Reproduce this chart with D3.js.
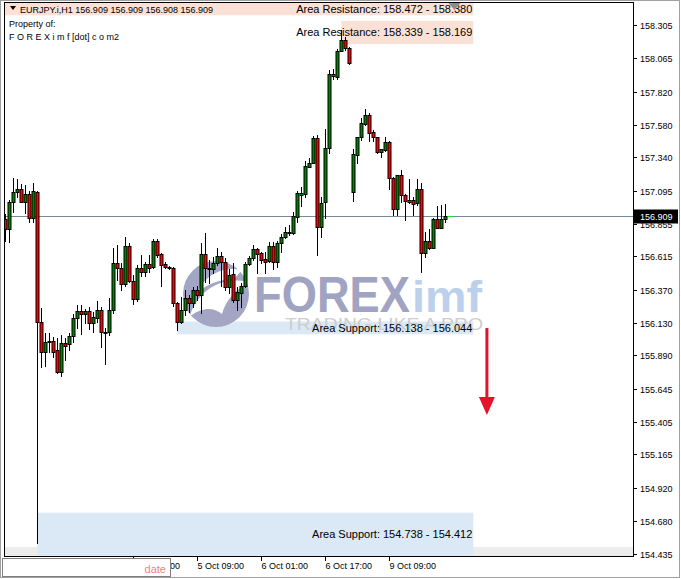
<!DOCTYPE html>
<html><head><meta charset="utf-8">
<script src="https://cdn.jsdelivr.net/npm/d3@7"></script>
<style>html,body{margin:0;padding:0;background:#fff;}svg{display:block;}</style>
</head><body><div id="chart"></div>
<script>
// ---- DATA ----
const opens  = [156.888,156.813,157.011,157.084,157.106,157.011,157.069,156.898,157.087,156.132,155.913,155.986,155.995,155.930,155.765,155.978,155.971,156.029,156.162,156.215,156.191,156.215,156.125,156.166,156.222,156.052,156.059,156.222,156.564,156.528,156.412,156.691,156.435,156.301,156.528,156.503,156.559,156.535,156.727,156.632,156.557,156.535,156.528,156.271,156.137,156.222,156.308,156.276,156.369,156.332,156.632,156.528,156.520,156.564,156.618,156.574,156.390,156.484,156.296,156.345,156.400,156.557,156.601,156.667,156.637,156.593,156.583,156.691,156.571,156.710,156.754,156.784,156.789,156.906,157.064,157.071,157.271,157.300,157.479,156.832,157.015,157.406,157.937,157.930,158.120,158.199,158.138,157.089,157.357,157.487,157.582,157.650,157.523,157.487,157.382,157.394,157.454,157.188,156.960,157.209,157.064,157.015,157.028,157.003,157.106,156.637,156.727,156.676,156.886,156.826,156.886,156.909];
const highs  = [156.923,157.028,157.186,157.181,157.143,157.138,157.092,157.154,157.092,156.235,156.054,156.054,156.022,156.017,156.041,156.017,156.054,156.191,156.259,156.259,156.227,156.246,156.210,156.288,156.246,156.088,156.312,156.674,156.698,156.564,156.759,156.710,156.479,156.552,156.625,156.576,156.625,156.740,156.740,156.642,156.576,156.544,156.535,156.283,156.320,156.369,156.332,156.390,156.395,156.710,156.784,156.588,156.610,156.674,156.649,156.603,156.520,156.564,156.390,156.417,156.576,156.618,156.698,156.676,156.649,156.649,156.722,156.722,156.730,156.779,156.832,156.845,156.942,157.096,157.125,157.315,157.333,157.496,157.503,157.052,157.545,157.979,157.984,158.131,158.272,158.221,158.148,157.399,157.491,157.628,157.692,157.664,157.540,157.491,157.399,157.491,157.458,157.194,157.211,157.247,157.071,157.179,157.052,157.179,157.150,156.796,156.813,156.896,156.984,156.991,156.998,156.909];
const lows   = [156.727,156.722,156.942,157.052,157.011,156.935,156.869,156.864,154.517,155.807,155.812,155.917,155.878,155.758,155.741,155.859,155.930,155.991,156.088,156.044,156.125,156.083,156.063,156.137,155.954,155.825,156.039,156.198,156.441,156.368,156.400,156.430,156.266,156.290,156.471,156.471,156.503,156.528,156.613,156.400,156.528,156.520,156.252,156.076,156.125,156.186,156.210,156.246,156.296,156.198,156.430,156.417,156.493,156.552,156.400,156.369,156.345,156.283,156.222,156.246,156.390,156.552,156.588,156.491,156.564,156.495,156.576,156.520,156.540,156.649,156.747,156.771,156.779,156.869,156.984,157.052,157.267,157.296,156.625,156.759,156.894,157.374,157.911,157.911,158.118,158.126,158.023,157.022,157.300,157.467,157.577,157.462,157.462,157.370,157.344,157.389,157.109,156.918,156.918,157.015,156.881,157.008,156.918,156.991,156.503,156.613,156.667,156.676,156.819,156.819,156.869,156.908];
const closes = [156.813,157.011,157.084,157.106,157.011,157.069,156.898,157.092,156.132,155.913,155.986,155.995,155.917,155.765,155.978,155.961,156.029,156.162,156.215,156.191,156.215,156.125,156.169,156.222,156.059,156.059,156.222,156.564,156.528,156.412,156.691,156.435,156.301,156.528,156.503,156.559,156.528,156.727,156.625,156.552,156.540,156.531,156.271,156.137,156.222,156.308,156.276,156.369,156.332,156.632,156.528,156.520,156.564,156.618,156.574,156.390,156.479,156.296,156.352,156.400,156.557,156.601,156.667,156.630,156.588,156.576,156.691,156.571,156.710,156.754,156.796,156.796,156.911,157.076,157.081,157.276,157.300,157.479,156.832,157.008,157.406,157.950,157.950,158.120,158.199,158.138,158.028,157.362,157.487,157.589,157.650,157.520,157.487,157.382,157.399,157.454,157.188,156.960,157.209,157.064,157.020,157.024,156.998,157.106,156.637,156.727,156.676,156.886,156.826,156.886,156.909,156.909];

const priceTicks = [158.305,158.065,157.820,157.580,157.340,157.095,156.855,156.615,156.370,156.130,155.890,155.645,155.405,155.165,154.920,154.680,154.435];
const timeTickIdx = [32,48,64,80,96];
const timeTickLabels = ["4 Oct 17:00","5 Oct 09:00","6 Oct 01:00","6 Oct 17:00","9 Oct 09:00"];

const zoneLabels = ["Area Resistance: 158.472 - 158.380","Area Resistance: 158.339 - 158.169","Area Support: 156.138 - 156.044","Area Support: 154.738 - 154.412"];
const zoneHigh  = [158.472,158.339,156.138,154.738];
const zoneLow   = [158.380,158.169,156.044,154.412];
const zoneStart = [-10,84,43,8];
const zoneEnd   = [117,117,117,117];
const zoneKind  = ["res","res","sup","sup"];

const symbolInfo = "EURJPY.i,H1  156.909 156.909 156.908 156.909";
const currentPrice = 156.909;
const arrowIdx = 120.4, arrowFrom = 156.090, arrowTo = 155.454;
const shiftIdx = 112.3;

// ---- LAYOUT ----
const W = 681, H = 579;
const L = 4, R = 633, T = 2, B = 556;
const svg = d3.select("#chart").append("svg").attr("width", W).attr("height", H)
  .style("font-family", "'Liberation Sans', Arial, sans-serif");

const x = d3.scaleLinear().domain([0, 157]).range([5.3, 633.3]);
const y = d3.scaleLinear().domain([154.421, 158.477]).range([B, T]);

svg.append("rect").attr("width", W).attr("height", H).attr("fill", "#fff");
svg.append("rect").attr("x",0.5).attr("y",0.5).attr("width",W-2).attr("height",H-2).attr("fill","none").attr("stroke","#a0a0a0");

const defs = svg.append("defs");
defs.append("clipPath").attr("id","plot").append("rect").attr("x",L).attr("y",T).attr("width",R-L).attr("height",B-T);
const plot = svg.append("g").attr("clip-path","url(#plot)");

// bottom gray strip
plot.append("rect").attr("x",L).attr("y",547).attr("width",R-L).attr("height",B-547).attr("fill","#ececec");

// zones
zoneLabels.forEach((lab,i)=>{
  const x0 = Math.max(L, x(zoneStart[i])), x1 = x(zoneEnd[i]);
  const y0 = y(zoneHigh[i]), y1 = y(zoneLow[i]);
  plot.append("rect").attr("x",x0).attr("y",y0).attr("width",x1-x0).attr("height",y1-y0)
    .attr("fill", zoneKind[i]==="res" ? "#fbe0d5" : "#dbe8f6");
});

// watermark
const wm = plot.append("g");
wm.append("circle").attr("cx",216).attr("cy",294).attr("r",33).attr("fill","#a3a6c3");
wm.append("path").attr("d","M190,316 C198,290 222,276 248,282 C234,292 226,300 222,314 C212,306 202,308 190,316 Z").attr("fill","#fff");
wm.append("path").attr("d","M198,292 C204,276 222,266 242,270 L234,279 C220,279 208,284 198,292 Z").attr("fill","#fff");
wm.append("text").attr("x",254).attr("y",312).attr("font-size",50).attr("font-weight","bold")
  .attr("textLength",156).attr("lengthAdjust","spacingAndGlyphs").attr("fill","#a0a3c1").text("FOREX");
wm.append("text").attr("x",412).attr("y",312).attr("font-size",44).attr("font-weight","bold")
  .attr("textLength",70).attr("lengthAdjust","spacingAndGlyphs").attr("fill","#bcd0ec").text("imf");
wm.append("text").attr("x",285).attr("y",330).attr("font-size",17)
  .attr("textLength",198).attr("lengthAdjust","spacingAndGlyphs").attr("fill","#cdcdcd").text("TRADING LIKE A PRO");

// current price line
plot.append("line").attr("x1",L).attr("x2",R).attr("y1",Math.round(y(currentPrice))+0.5).attr("y2",Math.round(y(currentPrice))+0.5)
  .attr("stroke","#778899").attr("stroke-width",1);

// zone labels (under candles)
zoneLabels.forEach((lab,i)=>{
  const yc = (Math.max(T,y(zoneHigh[i])) + Math.min(B,y(zoneLow[i])))/2;
  plot.append("text").attr("x",x(zoneEnd[i])-1).attr("y",yc).attr("dy","0.35em").attr("text-anchor","end")
    .attr("font-size",11).attr("fill","#000").text(lab);
});

// candles
const candles = plot.append("g");
opens.forEach((o,i)=>{
  const c = closes[i], h = highs[i], l = lows[i];
  const cx = Math.round(x(i)) + 0.5;
  const top = Math.round(y(Math.max(o,c))), bot = Math.round(y(Math.min(o,c)));
  if (o === c && h - l < 0.005) {
    candles.append("line").attr("x1",cx-2).attr("x2",cx+3).attr("y1",top+0.5).attr("y2",top+0.5).attr("stroke","#00ff00");
    return;
  }
  candles.append("line").attr("x1",cx).attr("x2",cx).attr("y1",Math.round(y(h))).attr("y2",Math.round(y(l))+1)
    .attr("stroke","#000").attr("stroke-width",1);
  candles.append("rect").attr("x",cx-1.5).attr("y",top+0.5).attr("width",3).attr("height",Math.max(1,bot-top))
    .attr("fill", c >= o ? "#008000" : "#ff0000").attr("stroke","#000").attr("stroke-width",1);
});

// arrow
const ax = x(arrowIdx);
plot.append("rect").attr("x",ax-1.5).attr("y",y(arrowFrom)).attr("width",3).attr("height",y(arrowTo)-y(arrowFrom)-14).attr("fill","#e4132b");
plot.append("path").attr("d",`M${ax-8},${y(arrowTo)-18} L${ax+8},${y(arrowTo)-18} L${ax},${y(arrowTo)} Z`).attr("fill","#e4132b");

// chart shift marker
const sx = x(shiftIdx);
svg.append("path").attr("d",`M${sx-6},${T+1} L${sx+6},${T+1} L${sx},${T+8} Z`).attr("fill","#8c8c8c");

// header texts
svg.append("path").attr("d","M10,6 L16,6 L13,10 Z").attr("fill","#000");
svg.append("text").attr("x",20).attr("y",13).attr("font-size",9).attr("fill","#000").text(symbolInfo);
svg.append("text").attr("x",9).attr("y",27).attr("font-size",9).attr("fill","#000").text("Property of:");
svg.append("text").attr("x",9).attr("y",40).attr("font-size",9).attr("fill","#000").text("F O R E X i m f [dot] c o m2");

// plot frame
svg.append("rect").attr("x",L+0.5).attr("y",T+0.5).attr("width",R-L).attr("height",B-T).attr("fill","none").attr("stroke","#000");

// price axis
const ya = svg.append("g");
priceTicks.forEach(p=>{
  const yy = Math.round(y(p))+0.5;
  ya.append("line").attr("x1",R+1).attr("x2",R+4).attr("y1",yy).attr("y2",yy).attr("stroke","#000");
  ya.append("text").attr("x",R+7).attr("y",yy).attr("dy","0.35em").attr("font-size",9).attr("fill","#000").text(p.toFixed(3));
});
const cy = Math.round(y(currentPrice))+0.5;
ya.append("rect").attr("x",R+1).attr("y",cy-7).attr("width",44).attr("height",14).attr("fill","#000");
ya.append("text").attr("x",R+7).attr("y",cy).attr("dy","0.35em").attr("font-size",9).attr("fill","#fff").text(currentPrice.toFixed(3));

// time axis
const xa = svg.append("g");
timeTickIdx.forEach((ix,k)=>{
  const xx = Math.round(x(ix))+0.5;
  xa.append("line").attr("x1",xx).attr("x2",xx).attr("y1",B+1).attr("y2",B+5).attr("stroke","#000");
  xa.append("text").attr("x",xx).attr("y",B+13).attr("font-size",9).attr("fill","#000").text(timeTickLabels[k]);
});
svg.append("rect").attr("x",2.5).attr("y",558.5).attr("width",168).attr("height",18).attr("fill","#fff").attr("stroke","#808080");
svg.append("text").attr("x",166).attr("y",569).attr("dy","0.35em").attr("text-anchor","end").attr("font-size",11).attr("fill","#f08080").text("date");
</script></body></html>
